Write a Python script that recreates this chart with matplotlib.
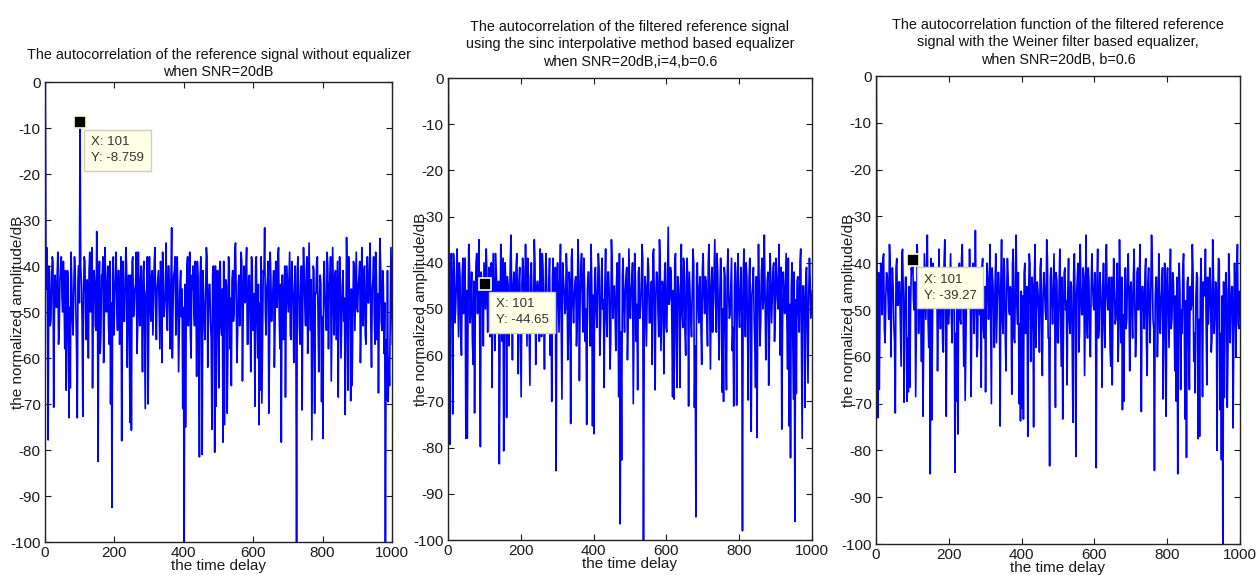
import numpy as np
import matplotlib
matplotlib.use('Agg')
import matplotlib.pyplot as plt

plt.rcParams['font.family'] = ['Liberation Sans', 'DejaVu Sans']
plt.rcParams['axes.unicode_minus'] = False

# lags: every 2 samples, 1..1001
lag_main = np.arange(1, 1002, 4)   # 1, 5, 9, ...
lag_mid = np.arange(3, 1000, 4)    # 3, 7, 11, ...

# ---- no equalizer ----
ref_db = [
    0, -36, -77.8, -41, -52, -38, -70.7, -42, -49, -37, -54, -40, -47, -39, -58, -67, -41, -73, -66.5, -43, -55, -38, -50, -73, -40,
    -8.759, -44, -72.7, -38, -51, -43, -60, -37, -48, -66.5, -41, -53, -32.5, -82.5, -39, -55, -42, -61, -36, -50, -40, -57, -70, -92.5, -38,
    -46, -37, -54, -41, -49, -78, -39, -52, -36, -62, -42, -74, -75.7, -38, -50, -44, -59, -37, -53, -40, -63, -39, -71, -45, -70,
    -38, -52, -41, -47, -36, -56, -43, -50, -39, -61, -42, -48, -35, -54, -40, -58, -31.7, -49, -41, -55, -38, -63, -44, -51, -71,
    -105, -75, -40, -53, -37, -60, -45, -50, -39, -64, -42, -81.5, -38, -81, -47, -56, -36, -62, -44, -52, -75.5, -40, -80.5, -70.5, -41,
    -66.5, -39, -55, -78.3, -74.5, -43, -72, -38, -58, -66, -41, -50, -35, -61, -44, -53, -37, -65, -40, -48, -36, -57, -42, -63, -39,
    -52, -70.5, -38, -60, -74.5, -67, -69.8, -41, -31.7, -55, -43, -72, -37, -52, -45, -62, -39, -49, -36, -58, -78.3, -42, -54, -68.5, -40,
    -50, -37, -56, -43, -61, -40, -105, -38, -53, -44, -71.3, -36, -49, -41, -59, -35, -54, -77.8, -40, -72, -46, -38, -63, -42, -69.5,
    -77.5, -39, -51, -37, -58, -43, -65, -36, -55, -41, -48, -68.5, -38, -60, -44, -52, -72.3, -33.8, -67, -45, -69.3, -66, -39, -54, -37,
    -50, -42, -61, -36, -53, -40, -57, -38, -48, -35, -62, -43, -51, -37, -56, -67.6, -34, -52, -41, -59, -105, -69, -69.5, -66, -36,
    -57,
]
ref_mid = [
    -45, -48, -40, -53, -44, -39, -51, -46, -42, -57, -43, -38, -50, -47, -41, -55, -44, -49, -37, -52, -45, -41, -58, -43, -48,
    -40, -52, -46, -39, -56, -44, -41, -50, -36, -47, -43, -54, -40, -45, -59, -42, -38, -51, -46, -44, -53, -39, -48, -42, -55,
    -43, -49, -41, -57, -38, -46, -52, -44, -40, -48, -55, -42, -39, -51, -45, -37, -54, -47, -43, -50, -41, -56, -46, -38, -52,
    -47, -42, -55, -39, -49, -45, -41, -58, -44, -37, -51, -46, -53, -40, -48, -43, -60, -42, -38, -50, -46, -54, -41, -45, -49,
    -44, -51, -38, -47, -55, -42, -40, -53, -46, -39, -57, -43, -48, -41, -52, -45, -38, -50, -44, -56, -42, -47, -40, -54, -46,
    -41, -53, -45, -39, -49, -44, -58, -40, -47, -43, -52, -37, -46, -55, -42, -48, -39, -51, -45, -41, -57, -43, -50, -38, -54,
    -46, -40, -52, -44, -48, -38, -55, -42, -50, -45, -39, -59, -43, -47, -41, -53, -46, -38, -51, -44, -42, -56, -40, -49, -45,
    -43, -55, -39, -48, -46, -52, -41, -44, -57, -40, -47, -42, -53, -38, -50, -45, -43, -58, -41, -46, -39, -52, -48, -44, -51,
    -42, -47, -54, -40, -45, -38, -50, -46, -43, -56, -39, -48, -44, -52, -41, -47, -55, -42, -38, -50, -45, -53, -40, -46, -49,
    -44, -39, -52, -47, -41, -55, -43, -48, -40, -53, -45, -38, -57, -42, -46, -50, -39, -54, -44, -48, -56, -41, -60, -52, -47,
]

# ---- sinc interpolative equalizer ----
sinc_db = [
    0, -79.3, -38, -72.7, -41, -50, -37, -56, -43, -60, -39, -48, -78, -78, -36, -53, -42, -62, -72.5, -40, -51, -35, -79.8, -44, -58,
    -44.65, -37, -55, -41, -49, -67, -38, -59, -43, -52, -83.5, -36, -57, -80.7, -40, -73.5, -45, -53, -34, -61, -42, -50, -38, -64, -41,
    -69, -39, -54, -36, -58, -43, -66.5, -40, -51, -35, -62, -44, -48, -37, -56, -41, -63, -38, -52, -45, -60, -70, -39, -50, -85,
    -40, -55, -36, -69.5, -43, -51, -38, -61, -42, -74.8, -37, -53, -44, -58, -35, -65.5, -41, -49, -39, -57, -75, -42, -52, -36, -75.3,
    -77, -41, -54, -38, -60, -44, -50, -67, -37, -56, -42, -63, -35, -52, -45, -59, -40, -69, -96.5, -82.7, -39, -55, -43, -61, -37,
    -52, -44, -70.5, -38, -57, -67.5, -41, -50, -36, -105, -43, -58, -39, -53, -46, -62, -37, -67.5, -42, -51, -35, -59, -44, -64, -40,
    -55, -32.3, -48, -42, -69, -69.5, -38, -67, -45, -67, -36, -54, -41, -60, -39, -71, -47, -56, -37, -71.3, -95, -40, -53, -43, -62,
    -38, -51, -44, -58, -36, -63, -41, -49, -35, -55, -42, -61, -39, -68, -70, -43, -67.5, -37, -52, -45, -59, -71, -40, -70.8, -38,
    -54, -41, -98, -37, -56, -43, -69.7, -39, -76.5, -45, -52, -67, -77.8, -36, -58, -42, -50, -34, -61, -44, -66.5, -38, -53, -41, -57,
    -39, -48, -36, -60, -76, -42, -51, -38, -63, -75.3, -82.2, -40, -69.5, -96, -68.3, -43, -55, -37, -78, -45, -71.3, -41, -66, -39, -52,
    -46,
]
sinc_mid = [
    -42, -49, -45, -38, -53, -44, -47, -40, -55, -43, -51, -39, -46, -52, -41, -48, -57, -44, -50, -38, -45, -54, -42, -47, -40,
    -50, -43, -47, -56, -40, -45, -52, -38, -48, -44, -54, -42, -39, -51, -46, -43, -58, -40, -47, -45, -53, -41, -49, -44, -56,
    -45, -41, -50, -47, -39, -55, -43, -48, -52, -40, -46, -44, -57, -42, -38, -51, -47, -45, -53, -39, -49, -43, -55, -41, -46,
    -48, -44, -52, -40, -46, -50, -42, -56, -45, -39, -49, -47, -43, -53, -41, -48, -38, -55, -44, -50, -46, -42, -58, -45, -47,
    -43, -50, -46, -41, -54, -39, -48, -45, -52, -42, -47, -57, -40, -46, -51, -44, -49, -38, -55, -43, -50, -46, -41, -53, -45,
    -47, -40, -55, -44, -49, -42, -52, -46, -39, -57, -45, -48, -41, -53, -44, -38, -50, -47, -43, -56, -40, -51, -46, -42, -54,
    -44, -49, -41, -53, -46, -40, -57, -43, -48, -45, -51, -39, -55, -44, -47, -42, -52, -46, -40, -58, -43, -49, -45, -54, -41,
    -47, -43, -52, -40, -49, -45, -55, -42, -48, -38, -53, -46, -44, -50, -41, -57, -43, -47, -51, -39, -54, -45, -48, -42, -50,
    -46, -52, -43, -48, -40, -55, -44, -50, -47, -41, -58, -43, -49, -45, -53, -39, -48, -46, -51, -42, -56, -44, -47, -40, -52,
    -43, -50, -45, -41, -54, -47, -44, -52, -39, -49, -46, -55, -42, -48, -44, -51, -40, -57, -45, -50, -43, -53, -47, -44, -49,
]

# ---- Weiner filter equalizer ----
wiener_db = [
    0, -73, -67, -40, -51, -38, -57, -42, -47, -36, -60, -41, -53, -72, -39, -49, -44, -62, -37, -69.7, -43, -69.5, -67.5, -66.5, -41,
    -39.27, -50, -68.5, -36, -55, -42, -61, -72.7, -38, -52, -34, -58, -85, -73.5, -40, -49, -44, -63, -37, -54, -41, -59, -35, -72.7, -43,
    -50, -38, -57, -42, -84.7, -69.5, -76.5, -40, -53, -36, -62, -69.3, -44, -48, -37, -68.5, -41, -55, -33, -60, -43, -51, -66.5, -39, -56,
    -67.5, -40, -52, -36, -70, -44, -58, -38, -49, -42, -74.8, -35, -55, -41, -63, -39, -50, -45, -68, -37, -57, -34, -53, -70, -73.7,
    -71, -73.3, -40, -54, -77, -38, -61, -43, -75, -36, -52, -46, -59, -39, -64, -42, -50, -35, -56, -83.3, -41, -53, -38, -70.8, -44,
    -57, -37, -62, -73.3, -42, -50, -66, -39, -55, -45, -74, -38, -81.3, -43, -59, -36, -51, -41, -64, -34, -56, -44, -60, -38, -49,
    -42, -83.7, -37, -54, -45, -66.5, -40, -58, -36, -50, -43, -62, -66, -39, -53, -47, -61, -35, -57, -71.3, -69.5, -41, -52, -38, -63,
    -44, -56, -37, -60, -42, -50, -36, -71.7, -45, -54, -39, -64, -41, -57, -34, -52, -84.3, -43, -60, -38, -55, -46, -69, -40, -72.7,
    -41, -58, -37, -52, -44, -63, -69.5, -85, -40, -67, -55, -38, -73.3, -81.5, -43, -67, -50, -36, -61, -67.7, -42, -77.5, -77, -39, -68.5,
    -46, -37, -66, -53, -41, -59, -35, -55, -44, -80, -39, -71.3, -82, -105, -68.7, -42, -70.8, -38, -57, -45, -75.2, -40, -60, -36, -54,
    -50,
]
wiener_mid = [
    -46, -42, -50, -44, -39, -54, -47, -43, -52, -40, -48, -45, -57, -41, -49, -44, -53, -38, -47, -51, -43, -56, -45, -49, -42,
    -48, -44, -53, -40, -47, -50, -43, -58, -45, -41, -52, -46, -39, -55, -44, -48, -42, -51, -47, -43, -57, -40, -49, -46, -53,
    -44, -51, -41, -48, -55, -43, -46, -52, -39, -50, -45, -56, -42, -47, -44, -53, -40, -49, -46, -58, -43, -48, -41, -54, -45,
    -50, -43, -47, -53, -41, -49, -45, -57, -42, -48, -44, -52, -39, -55, -46, -43, -51, -47, -40, -56, -44, -49, -42, -53, -46,
    -47, -42, -55, -45, -49, -40, -53, -46, -43, -58, -44, -50, -41, -54, -47, -45, -52, -39, -56, -43, -48, -46, -51, -42, -57,
    -45, -50, -43, -54, -41, -48, -46, -52, -44, -57, -42, -49, -47, -40, -55, -45, -51, -43, -48, -53, -41, -56, -46, -44, -50,
    -48, -44, -56, -42, -50, -46, -53, -41, -47, -45, -58, -43, -49, -44, -52, -40, -55, -47, -43, -51, -46, -54, -42, -48, -45,
    -51, -43, -48, -55, -41, -47, -52, -45, -49, -42, -57, -44, -50, -46, -40, -54, -48, -43, -53, -45, -49, -41, -56, -47, -44,
    -49, -45, -54, -42, -51, -47, -43, -56, -46, -50, -41, -53, -48, -44, -57, -45, -49, -42, -55, -47, -43, -52, -46, -50, -44,
    -47, -53, -43, -49, -45, -56, -42, -51, -46, -48, -40, -55, -47, -44, -52, -46, -58, -43, -50, -45, -54, -48, -42, -53, -46,
]

titles = [
    'The autocorrelation of the reference signal without equalizer\nwhen SNR=20dB',
    'The autocorrelation of the filtered reference signal\nusing the sinc interpolative method based equalizer\nwhen SNR=20dB,i=4,b=0.6',
    'The autocorrelation function of the filtered reference\nsignal with the Weiner filter based equalizer,\nwhen SNR=20dB, b=0.6',
]
title_pads = [4, 9, 9]
tip_x = 101
tip_labels = ['-8.759', '-44.65', '-39.27']
series = [(ref_db, ref_mid), (sinc_db, sinc_mid), (wiener_db, wiener_mid)]

W, H = 1256, 575
# axes boxes in pixels: left, right, top, bottom
boxes = [(45, 392, 82, 542), (448, 812, 78, 540), (876, 1240, 76, 544)]

fig = plt.figure(figsize=(W / 100, H / 100), dpi=100)

for i, (l, r, t, b) in enumerate(boxes):
    ax = fig.add_axes([l / W, 1 - b / H, (r - l) / W, (b - t) / H])
    main, mid = series[i]
    x = np.concatenate([lag_main, lag_mid])
    y = np.concatenate([main, mid])
    order = np.argsort(x)
    ax.plot(x[order], y[order], color='#0000ff', lw=1.2)
    ax.set_xlim(0, 1000)
    ax.set_ylim(-100, 0)
    ax.set_xticks(np.arange(0, 1001, 200))
    ax.set_yticks(np.arange(-100, 1, 10))
    ax.tick_params(direction='in', top=True, right=True, length=4,
                   labelsize=11, colors='#1a1a1a', pad=3)
    for s in ax.spines.values():
        s.set_color('#222222')
        s.set_linewidth(1.0)
    ax.set_title(titles[i], fontsize=10.4, color='#111111', pad=title_pads[i], linespacing=1.3)
    ax.set_xlabel('the time delay', fontsize=11, color='#1a1a1a')
    ax.set_ylabel('the normalized amplitude/dB', fontsize=11, color='#1a1a1a')
    ax.xaxis.set_label_coords(0.5, -24 / (b - t))
    ax.xaxis.label.set_va('center')
    ax.yaxis.set_label_coords(-27 / (r - l), 0.5)
    ax.yaxis.label.set_va('center')

    # data tip at lag 101
    k = list(lag_main).index(tip_x)
    ax.plot(lag_main[k], main[k], 's', ms=8, mfc='black', mec='#ffffd0', mew=1.2, zorder=5, clip_on=False)
    ax.annotate('X: %d\nY: %s' % (tip_x, tip_labels[i]), xy=(lag_main[k], main[k]),
                xytext=(11, -14), textcoords='offset pixels', ha='left', va='top',
                fontsize=9.5, color='#333333', linespacing=1.45, zorder=6,
                bbox=dict(boxstyle='square,pad=0.5', fc='#ffffe6', ec='#d0d0c0', lw=1))

fig.savefig('out.png', dpi=100)
